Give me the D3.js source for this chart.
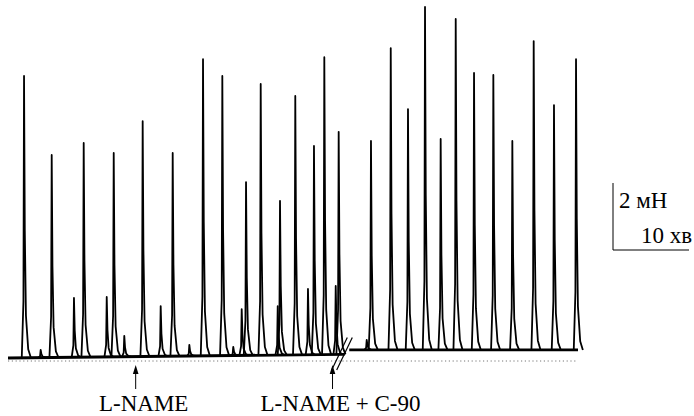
<!DOCTYPE html>
<html lang="uk">
<head>
<meta charset="UTF-8">
<title></title>
<script src="https://d3js.org/d3.v7.min.js"></script>
<style>
  body { margin: 0; background: #fff; }
</style>
</head>
<body>
<svg id="drawing_pad" width="694" height="416"></svg>
<script>
// contractions before the break (time in min, peak force in mN above the dotted zero line)
let seg1Times  = [2.11, 4.30, 5.75, 8.68, 9.96, 12.99, 13.91, 15.30, 17.72, 20.09, 21.67, 23.86, 25.66,
                  28.20, 29.64, 30.75, 31.32, 33.25, 35.49, 35.79, 37.80, 39.47, 40.26, 41.62, 43.12, 43.51];
let seg1Forces = [8.51, 0.33, 6.15, 1.88, 6.51, 1.91, 6.21, 0.75, 7.16, 1.64, 6.21, 0.48, 9.01,
                  8.51, 0.42, 1.55, 5.34, 8.27, 1.64, 4.78, 7.91, 2.15, 6.42, 9.07, 2.24, 6.84];
// contractions after the break (L-NAME + C-90)
let seg2Times  = [47.20, 47.76, 50.36, 52.63, 54.87, 56.93, 58.91, 61.32, 63.86, 66.36, 69.17, 71.84, 74.74];
let seg2Forces = [0.63, 6.57, 9.34, 7.52, 10.57, 6.63, 10.21, 8.60, 8.54, 6.57, 9.55, 7.64, 9.01];
// baseline level at segment start / end (mN)
let seg1Span = [0, 44.3],  seg1Base = [0.09, 0.2];
let seg2Span = [44.9, 75], seg2Base = [0.33, 0.33];
// annotations
let marks = [{t: 16.8, label: "L-NAME"}, {t: 42.7, label: "L-NAME + C-90"}];
let scaleForce = 2, scaleTime = 10;

let serif = "'Liberation Serif', 'Times New Roman', 'DejaVu Serif', serif";
let svg = d3.select("#drawing_pad");
let x = d3.scaleLinear().domain([0, 75]).range([8, 578]);
let y = d3.scaleLinear().domain([0, 10.5]).range([361, 9.25]);
let line = d3.line().x(d => x(d[0])).y(d => y(d[1]));

// dotted zero line
svg.append("line")
  .attr("x1", x(0)).attr("x2", x(75)).attr("y1", y(0)).attr("y2", y(0))
  .attr("stroke", "#777").attr("stroke-width", 1).attr("stroke-dasharray", "1.2,2.6");

function drawSegment(times, forces, span, base) {
  let b = d3.scaleLinear().domain(span).range(base);
  svg.append("path")
    .attr("d", line([[span[0], b(span[0])], [span[1], b(span[1])]]))
    .attr("fill", "none").attr("stroke", "#000").attr("stroke-width", 2.8);
  times.forEach(function(t, i) {
    let b0 = b(t), h = forces[i] - b0;
    let pts = [[t - 0.3, b0], [t - 0.08, b0 + 0.2 * h], [t, b0 + h], [t + 0.1, b0 + 0.45 * h],
               [t + 0.25, b0 + 0.15 * h], [t + 0.55, b0 + 0.03 * h], [t + 0.9, b0]];
    svg.append("path").attr("d", line(pts))
      .attr("fill", "none").attr("stroke", "#000").attr("stroke-width", 1.8)
      .attr("stroke-linejoin", "round");
  });
}
drawSegment(seg1Times, seg1Forces, seg1Span, seg1Base);
drawSegment(seg2Times, seg2Forces, seg2Span, seg2Base);

// break marks
[0, 5].forEach(function(dx) {
  svg.append("line")
    .attr("x1", 331.7 + dx).attr("y1", 370).attr("x2", 347.3 + dx).attr("y2", 337.5)
    .attr("stroke", "#000").attr("stroke-width", 1.2);
});

// arrows and labels
marks.forEach(function(m) {
  let ax = x(m.t);
  svg.append("line").attr("x1", ax).attr("x2", ax).attr("y1", 372).attr("y2", 389)
    .attr("stroke", "#000").attr("stroke-width", 1);
  svg.append("path")
    .attr("d", "M" + ax + ",365 L" + (ax - 2.8) + ",374 L" + (ax + 2.8) + ",374 Z")
    .attr("fill", "#000");
  svg.append("text").attr("x", ax + 8).attr("y", 411).attr("text-anchor", "middle")
    .style("font-family", serif).style("font-size", "23px").text(m.label);
});

// scale bar
let sbX = 613, sbY = 250;
let forcePx = y(0) - y(scaleForce), timePx = x(scaleTime) - x(0);
svg.append("path")
  .attr("d", "M" + sbX + "," + (sbY - forcePx) + " L" + sbX + "," + sbY + " L" + (sbX + timePx) + "," + sbY)
  .attr("fill", "none").attr("stroke", "#000").attr("stroke-width", 1);
svg.append("text").attr("x", sbX + 6).attr("y", 208)
  .style("font-family", serif).style("font-size", "23px").text(scaleForce + " мН");
svg.append("text").attr("x", sbX + 28).attr("y", 243)
  .style("font-family", serif).style("font-size", "23px").text(scaleTime + " хв");
</script>
</body>
</html>
